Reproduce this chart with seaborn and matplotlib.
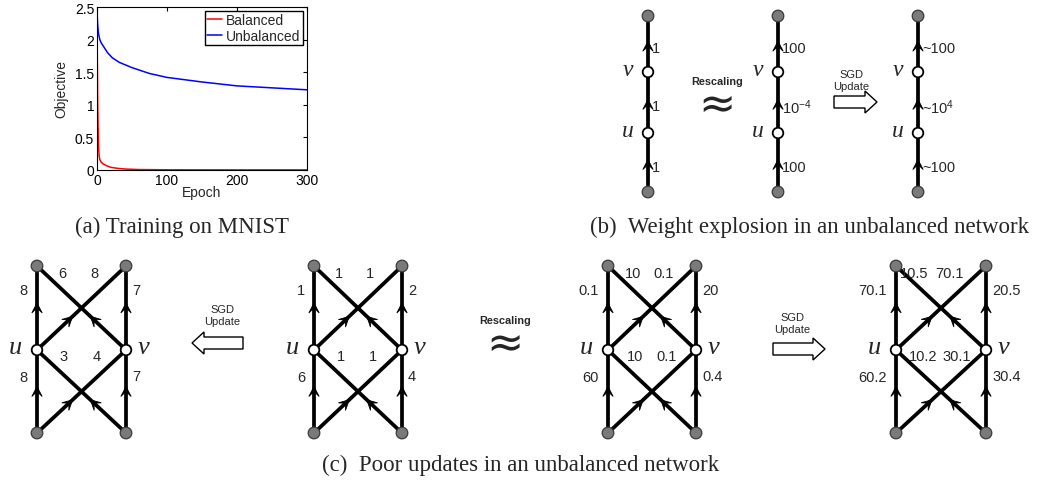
import numpy as np
import pandas as pd
import matplotlib.pyplot as plt
from matplotlib.patches import Circle, Polygon
import seaborn as sns

sns.set_style('white')
plt.rcParams['font.family'] = ['Liberation Sans', 'DejaVu Sans']
plt.rcParams['mathtext.fontset'] = 'custom'
plt.rcParams['mathtext.rm'] = 'Liberation Sans'
plt.rcParams['mathtext.it'] = 'Liberation Sans:italic'

# (a) training objective
epochs_bal = [0, 1, 2, 3, 4, 6, 8, 10, 15, 20, 30, 40, 60, 100, 200, 300]
obj_bal = [2.30, 1.00, 0.40, 0.22, 0.16, 0.12, 0.10, 0.085, 0.06, 0.04, 0.025, 0.015, 0.007, 0.003, 0.002, 0.002]
epochs_unbal = [0, 1, 2, 4, 6, 9, 15, 22, 32, 50, 75, 100, 150, 200, 250, 300]
obj_unbal = [2.43, 2.22, 2.10, 2.00, 1.95, 1.90, 1.80, 1.72, 1.65, 1.57, 1.48, 1.42, 1.35, 1.29, 1.26, 1.23]

# (b) weights on the chain, bottom -> top
chain_before = ['1', '1', '1']
chain_rescaled = ['100', '10$^{-4}$', '100']
chain_after = ['~100', '~10$^4$', '~100']

# (c) weights: [up-left, up-right, top-diag-left, top-diag-right, mid-left, mid-right, low-left, low-right]
net_sgd = ['8', '7', '6', '8', '3', '4', '8', '7']
net_orig = ['1', '2', '1', '1', '1', '1', '6', '4']
net_rescaled = ['0.1', '20', '10', '0.1', '10', '0.1', '60', '0.4']
net_rescaled_sgd = ['70.1', '20.5', '10.5', '70.1', '10.2', '30.1', '60.2', '30.4']

W, H = 1051, 485
fig = plt.figure(figsize=(W / 100, H / 100), dpi=100)
ov = fig.add_axes([0, 0, 1, 1])
ov.set_xlim(0, W)
ov.set_ylim(H, 0)
ov.axis('off')

# ---- (a) line chart
df = pd.concat([
    pd.DataFrame({'Epoch': epochs_bal, 'Objective': obj_bal, 'run': 'Balanced'}),
    pd.DataFrame({'Epoch': epochs_unbal, 'Objective': obj_unbal, 'run': 'Unbalanced'}),
])
ax = fig.add_axes([97 / W, 1 - 171 / H, 210 / W, 163 / H])
sns.lineplot(data=df, x='Epoch', y='Objective', hue='run',
             palette={'Balanced': '#ff0000', 'Unbalanced': '#0000ff'},
             lw=1.1, ax=ax)
ax.set_xlim(0, 300)
ax.set_ylim(0, 2.5)
ax.set_xticks([0, 100, 200, 300])
ax.set_yticks([0, 0.5, 1, 1.5, 2, 2.5])
ax.set_yticklabels(['0', '0.5', '1', '1.5', '2', '2.5'])
ax.tick_params(direction='in', length=3, top=True, right=True, labelsize=10, pad=2,
               colors='black')
ax.set_xlabel('Epoch', fontsize=10, labelpad=-1)
ax.set_ylabel('Objective', fontsize=10, labelpad=5)
for s in ax.spines.values():
    s.set_visible(True)
    s.set_color('black')
    s.set_linewidth(0.8)
h, l = ax.get_legend_handles_labels()
leg = ax.legend(h, l, loc='upper right', fontsize=10, frameon=True, fancybox=False,
                edgecolor='black', framealpha=1, borderpad=0.15, borderaxespad=0.3,
                handlelength=1.1, handletextpad=0.3, labelspacing=0.1)
leg.get_frame().set_linewidth(1.0)


# ---- helpers for the diagrams
def head(tip, d, length=10, half=5.2):
    d = np.asarray(d, float)
    d = d / np.hypot(*d)
    n = np.array([-d[1], d[0]])
    tip = np.asarray(tip, float)
    back = tip - length * d
    pts = [tip, back + half * n, tip - 0.5 * length * d, back - half * n]
    ov.add_patch(Polygon(pts, closed=True, fc='black', ec='black', lw=0.6, zorder=4))


def edge(p0, p1, f):
    ov.plot([p0[0], p1[0]], [p0[1], p1[1]], color='black', lw=2.7,
            solid_capstyle='butt', zorder=2)
    d = np.subtract(p1, p0)
    head(np.asarray(p0, float) + f * d, d)


def node(x, y, hidden):
    if hidden:
        ov.add_patch(Circle((x, y), 5.3, fc='white', ec='black', lw=1.3, zorder=6))
    else:
        ov.add_patch(Circle((x, y), 5.8, fc='#7a7a7a', ec='#3a3a3a', lw=0.9, zorder=6))


def uv(x, y, s, size):
    ov.text(x, y, s, ha='center', va='center', family='Liberation Serif',
            style='italic', fontsize=size, zorder=7)


def chain(x, labels):
    ys = [193, 134, 73, 17]
    for i in range(3):
        edge((x, ys[i]), (x, ys[i + 1]), 0.55)
        ty = ys[i] + 0.55 * (ys[i + 1] - ys[i])
        ov.text(x + 4, ty + 7, labels[i], ha='left', va='center', fontsize=10.5)
    for i, y in enumerate(ys):
        node(x, y, i in (1, 2))
    uv(x - 20, ys[2] - 2, 'v', 17)
    uv(x - 20, ys[1] - 2, 'u', 17)


def net(L, R, labels, top_dx=(25, -32)):
    top, mid, bot = 267, 351, 434
    edge((L, bot), (L, mid), 0.56)
    edge((R, bot), (R, mid), 0.56)
    edge((L, bot), (R, mid), 0.4)
    edge((R, bot), (L, mid), 0.4)
    edge((L, mid), (L, top), 0.56)
    edge((R, mid), (R, top), 0.56)
    edge((L, mid), (R, top), 0.4)
    edge((R, mid), (L, top), 0.4)
    for x in (L, R):
        node(x, top, False)
        node(x, mid, True)
        node(x, bot, False)
    fs = 10.5
    ov.text(L - 9, top + 24, labels[0], ha='right', va='center', fontsize=fs)
    ov.text(R + 6, top + 24, labels[1], ha='left', va='center', fontsize=fs)
    ov.text(L + top_dx[0], top + 7, labels[2], ha='center', va='center', fontsize=fs)
    ov.text(R + top_dx[1], top + 7, labels[3], ha='center', va='center', fontsize=fs)
    ov.text(L + 27, mid + 6, labels[4], ha='center', va='center', fontsize=fs)
    ov.text(R - 29, mid + 6, labels[5], ha='center', va='center', fontsize=fs)
    ov.text(L - 9, mid + 27, labels[6], ha='right', va='center', fontsize=fs)
    ov.text(R + 6, mid + 26, labels[7], ha='left', va='center', fontsize=fs)
    uv(L - 22, mid - 3, 'u', 19)
    uv(R + 18, mid - 3, 'v', 19)


def hollow_arrow(x_tail, x_tip, y, text_x, text_y):
    s = np.sign(x_tip - x_tail)
    hl, bh, hh = 12, 6, 11
    xb = x_tip - s * hl
    pts = [(x_tail, y - bh), (xb, y - bh), (xb, y - hh), (x_tip, y),
           (xb, y + hh), (xb, y + bh), (x_tail, y + bh)]
    ov.add_patch(Polygon(pts, closed=True, fc='white', ec='black', lw=1.0, zorder=3))
    ov.text(text_x, text_y, 'SGD', ha='center', va='center', fontsize=8)
    ov.text(text_x, text_y + 12, 'Update', ha='center', va='center', fontsize=8)


def rescale(x, y):
    ov.text(x, y - 2, 'Rescaling', ha='center', va='center', fontsize=7.8, fontweight='bold')
    ov.text(x, y + 21, '\u2248', ha='center', va='center', fontsize=32,
            family=['DejaVu Sans'])


# ---- (b)
chain(648, chain_before)
rescale(717, 84)
chain(778, chain_rescaled)
hollow_arrow(834, 877, 103, 851, 75)
chain(918, chain_after)

# ---- (c)
net(37, 126, net_sgd)
hollow_arrow(243, 192, 344, 222, 310)
net(314, 402, net_orig)
rescale(505, 323)
net(608, 696, net_rescaled)
hollow_arrow(773, 825, 350, 792, 318)
net(896, 986, net_rescaled_sgd, top_dx=(18, -36))

# ---- captions
cap = dict(ha='center', va='center', family='Liberation Serif', fontsize=16.5)
ov.text(182, 227, '(a) Training on MNIST', **cap)
ov.text(810, 227, '(b)  Weight explosion in an unbalanced network', **cap)
ov.text(521, 465, '(c)  Poor updates in an unbalanced network', **cap)

fig.savefig('out.png', dpi=100)
